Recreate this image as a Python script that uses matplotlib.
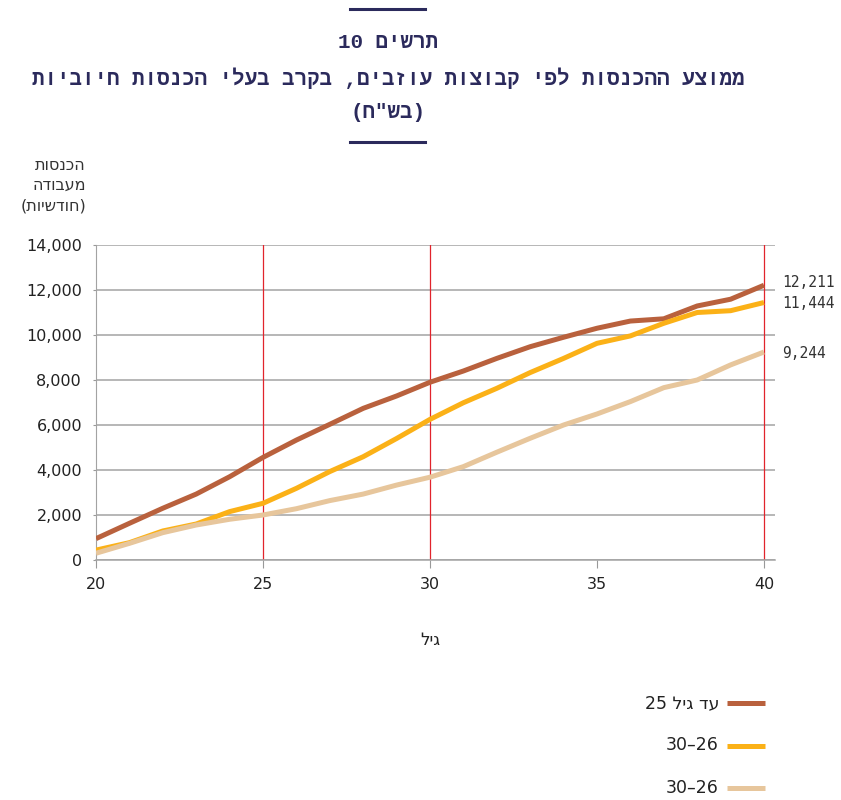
import re
import numpy as np
import matplotlib
matplotlib.use("Agg")
import matplotlib.pyplot as plt
from matplotlib.lines import Line2D

# matplotlib has no bidi support, so Hebrew strings go in visual order
def rtl(s):
    r = s[::-1]
    r = re.sub(r"[0-9][0-9,]*", lambda m: m.group(0)[::-1], r)
    return r.translate(str.maketrans("()", ")("))

#### data ####
ages = list(range(20, 41))
upto25 = [950, 1630, 2300, 2930, 3700, 4560, 5330, 6030, 6740, 7290, 7900,
          8400, 8960, 9480, 9900, 10300, 10620, 10720, 11290, 11590, 12211]
from26_30 = [440, 770, 1290, 1600, 2150, 2520, 3185, 3930, 4590, 5400, 6250,
             6990, 7630, 8330, 8960, 9630, 9960, 10520, 11000, 11080, 11444]
from26_30b = [300, 740, 1215, 1555, 1810, 2000, 2280, 2640, 2930, 3330, 3680,
              4150, 4790, 5410, 6000, 6490, 7040, 7660, 8000, 8670, 9244]

series_names = ["עד גיל 25", "26–30", "26–30"]
colors = ["#b9613d", "#fbb117", "#e7c69c"]
end_labels = ["12,211", "11,444", "9,244"]
end_label_y = [12350, 11420, 9200]

yticks = np.arange(0, 14001, 2000)
xticks = [20, 25, 30, 35, 40]
red_lines = [25, 30, 40]

navy = "#2b2a5c"
heb = ["DejaVu Sans"]
mono = ["DejaVu Sans Mono", "DejaVu Sans"]
title_font = ["Liberation Mono", "DejaVu Sans"]

fig = plt.figure(figsize=(8.41, 8.0), dpi=100)
ax = fig.add_axes([96 / 841, 0.3, 679 / 841, 0.39375])

for yv in yticks:
    ax.axhline(yv, color="#a3a3a3", lw=1.1, zorder=1)
for xv in red_lines:
    ax.axvline(xv, color="#e1242c", lw=0.9, zorder=2)

for vals, c in zip([upto25, from26_30, from26_30b], colors):
    ax.plot(ages, vals, color=c, lw=3.6, zorder=3, solid_capstyle="butt")

for lab, yv in zip(end_labels, end_label_y):
    ax.text(40.55, yv, lab, fontsize=10.5, family=mono, color="#333333",
            va="center", ha="left", clip_on=False)

ax.set_xlim(20, 40.33)
ax.set_ylim(0, 14000)
ax.set_xticks(xticks)
ax.set_yticks(yticks)
ax.set_yticklabels([f"{v:,.0f}" for v in yticks])
ax.tick_params(axis="x", length=6, color="#999999", labelsize=11.5,
               labelcolor="#222222", pad=6)
ax.tick_params(axis="y", length=2, color="#999999", labelsize=11.5,
               labelcolor="#222222", pad=8)
for s in ["top", "right"]:
    ax.spines[s].set_visible(False)
ax.spines["left"].set_color("#a3a3a3")
ax.spines["bottom"].set_color("#a3a3a3")
ax.spines["bottom"].set_linewidth(1.1)

# x label
fig.text(430 / 841, 1 - 640 / 800, rtl("גיל"), fontsize=12, family=heb,
         ha="center", va="center", color="#222222")

# y label, top-left
for i, t in enumerate(["הכנסות", "מעבודה", "(חודשיות)"]):
    fig.text(86 / 841, 1 - (165 + 20.5 * i) / 800, rtl(t), fontsize=11.5,
             family=heb, ha="right", va="center", color="#333333")

# title block
fig.add_artist(Line2D([350 / 841, 425 / 841], [1 - 9 / 800] * 2,
                      color=navy, lw=2.2))
fig.add_artist(Line2D([350 / 841, 425 / 841], [1 - 142 / 800] * 2,
                      color=navy, lw=2.2))
title_lines = ["תרשים 10",
               "ממוצע ההכנסות לפי קבוצות עוזבים, בקרב בעלי הכנסות חיוביות",
               '(בש"ח)']
for t, ypx in zip(title_lines, [42, 78, 112]):
    fig.text(388 / 841, 1 - ypx / 800, rtl(t), fontsize=15,
             fontweight="bold", family=title_font,
             ha="center", va="center", color=navy)

# legend drawn by hand
for i, (name, c) in enumerate(zip(series_names, colors)):
    yy = 1 - (703 + 42.5 * i) / 800
    fig.add_artist(Line2D([727 / 841, 765 / 841], [yy, yy], color=c, lw=3.6,
                          solid_capstyle="butt"))
    fig.text(719 / 841, yy, rtl(name), fontsize=12.5, family=heb,
             ha="right", va="center", color="#222222")

plt.savefig("out.png", dpi=100)
